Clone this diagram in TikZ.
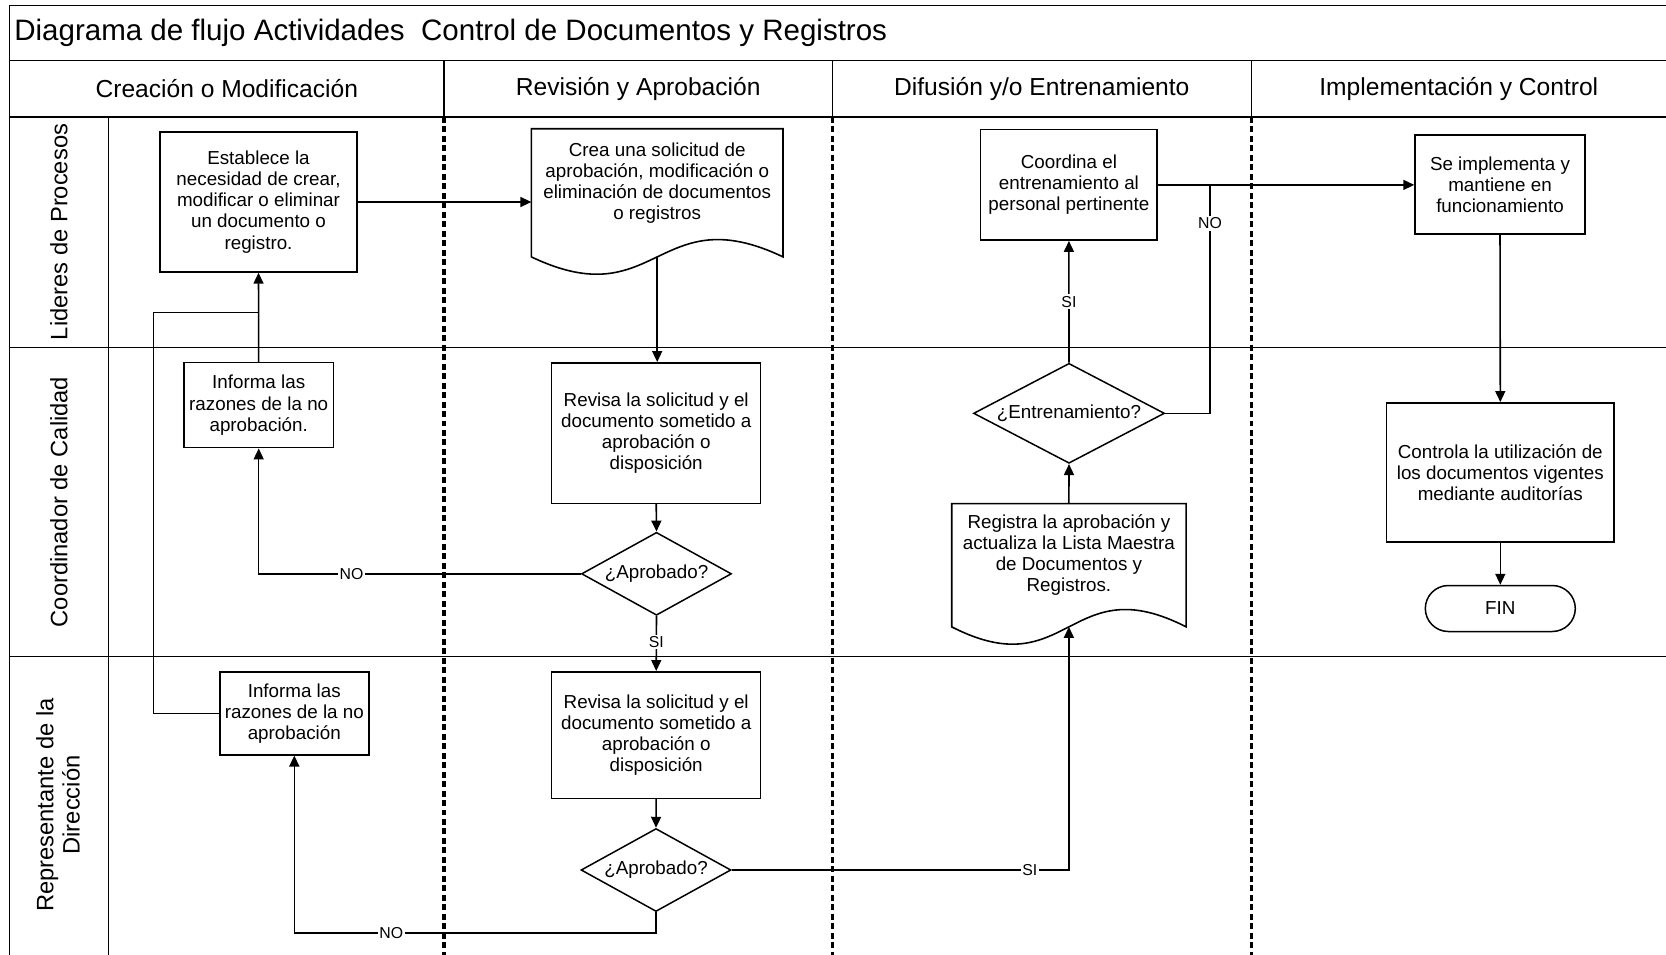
\documentclass[tikz,border=0pt]{standalone}
\usepackage{fontspec}
\setmainfont{Liberation Sans}
\usetikzlibrary{arrows.meta, calc, shapes.geometric}
\newcommand{\boxfont}{\fontsize{10.7}{12}\selectfont}
\tikzset{
  frm/.style={line width=0.9pt},
  sepl/.style={line width=2pt, dash pattern=on 3.4pt off 2pt},
  proc/.style={draw, line width=0.85pt, align=center, font=\boxfont, inner sep=2pt},
  doc/.style={align=center, font=\boxfont, inner sep=2pt},
  dec/.style={diamond, draw, line width=0.85pt, inner sep=0pt, aspect=1.8, font=\boxfont},
  term/.style={proc, rounded corners=0.46cm},
  lin/.style={line width=0.9pt},
  tra/.style={lin, -{Triangle[length=0.22cm, width=0.2cm]}},
  tlab/.style={font=\fontsize{9}{10}\selectfont, fill=white, inner sep=1pt},
  hdr/.style={font=\fontsize{14}{16}\selectfont},
  lane/.style={rotate=90, align=center, font=\fontsize{13.5}{15}\selectfont}
}
% wavy outline of a document node: #1 node, #2 drop of the corners below south
\newcommand{\docout}[2]{%
  \draw[lin] (#1.north west) -- (#1.north east) -- ($(#1.south east)+(0,#2)$)
    .. controls ($(#1.south)+(0,#2-60)$) and ($(#1.south)+(0,#2+60)$) .. ($(#1.south west)+(0,#2)$) -- cycle;
  \coordinate (#1-w) at ($(#1.south)+(0,#2)$);
}

\begin{document}
\begin{tikzpicture}[x=0.02cm, y=-0.02cm]
	\useasboundingbox (0,0) rectangle (1666,954);
	% table
	\draw[frm] (9.6,5.3) -- (1672,5.3);
	\draw[frm] (9.6,5.3) -- (9.6,962);
	\foreach \y in {60.6,116.9,347.4,656.6} \draw[frm] (9.6,\y) -- (1672,\y);
	\draw[frm] (108.5,116.9) -- (108.5,962);
	\foreach \x in {444,832.5,1251.6} {
		\draw[frm] (\x,60.6) -- (\x,116.9);
		\draw[sepl] (\x,116.9) -- (\x,962);
	}
	\node[anchor=west, inner sep=0pt, font=\fontsize{16.8}{18}\selectfont] (ttl) at (14,33) {Diagrama de flujo Actividades\ \ Control de Documentos y Registros};
	\node[hdr] (h1) at (226.8,88.5) {Creación o Modificación};
	\node[hdr] (h2) at (638.2,88.5) {Revisión y Aprobación};
	\node[hdr] (h3) at (1041.8,88.5) {Difusión y/o Entrenamiento};
	\node[hdr] (h4) at (1458.8,88.5) {Implementación y Control};
	\node[lane] (l1) at (58.8,232) {Lideres de Procesos};
	\node[lane] (l2) at (58.8,502) {Coordinador de Calidad};
	\node[lane] (l3) at (58,805) {Representante de la\\Dirección};

	% Lideres de Procesos
	\node[proc, minimum width=3.94cm, minimum height=2.8cm] (est) at (258.5,202) {Establece la\\necesidad de crear,\\modificar o eliminar\\un documento o\\registro.};
	\node[doc, minimum width=5.02cm, minimum height=2.17cm] (crea) at (657.2,183.3) {Crea una solicitud de\\aprobación, modificación o\\eliminación de documentos\\o registros};
	\docout{crea}{19}
	\node[proc, minimum width=3.53cm, minimum height=2.21cm] (coord) at (1068.9,184.9) {Coordina el\\entrenamiento al\\personal pertinente};
	\node[proc, minimum width=3.4cm, minimum height=1.98cm] (impl) at (1500,184.6) {Se implementa y\\mantiene en\\funcionamiento};

	% Coordinador de Calidad
	\node[proc, minimum width=2.99cm, minimum height=1.7cm] (infcc) at (258.7,405.2) {Informa las\\razones de la no\\aprobación.};
	\node[proc, minimum width=4.18cm, minimum height=2.81cm] (revcc) at (656.2,433) {Revisa la solicitud y el\\documento sometido a\\aprobación o\\disposición};
	\node[dec, minimum width=3cm, minimum height=1.66cm] (aprcc) at (656.5,573.8) {¿Aprobado?};
	\node[dec, minimum width=3.82cm, minimum height=2cm] (entr) at (1069,413.3) {¿Entrenamiento?};
	\node[doc, minimum width=4.675cm, minimum height=2.04cm] (reg) at (1068.9,555) {Registra la aprobación y\\actualiza la Lista Maestra\\de Documentos y\\Registros.};
	\docout{reg}{20.5}
	\node[proc, minimum width=4.55cm, minimum height=2.78cm] (ctrl) at (1500.3,472.3) {Controla la utilización de\\los documentos vigentes\\mediante auditorías};
	\node[term, minimum width=3cm, minimum height=0.92cm] (fin) at (1500.3,608.5) {FIN};

	% Representante de la Direccion
	\node[proc, minimum width=2.98cm, minimum height=1.66cm] (infrd) at (294.3,713.3) {Informa las\\razones de la no\\aprobación};
	\node[proc, minimum width=4.18cm, minimum height=2.53cm] (revrd) at (656.2,735) {Revisa la solicitud y el\\documento sometido a\\aprobación o\\disposición};
	\node[dec, minimum width=3cm, minimum height=1.66cm] (aprrd) at (656,870) {¿Aprobado?};

	\coordinate (jn) at (258.5,312.5);
	\coordinate (jn2) at (1210,184.9);

	\draw[tra] (est.east) -- (est.east -| crea.west);
	\draw[tra] (crea-w) -- (crea-w |- revcc.north);
	\draw[tra] (revcc.south) -- (aprcc.north);
	\draw[tra] (aprcc.west) -| node[tlab, pos=0.356] {NO} (infcc.south);
	\draw[tra] (infcc.north) -- (est.south);
	\draw[lin] (infrd.west) -| ($(jn)+(-105.2,0)$) -- (jn);
	\draw[tra] (aprcc.south) -- node[tlab, pos=0.47] {SI} (revrd.north);
	\draw[tra] (revrd.south) -- (aprrd.north);
	\draw[tra] (aprrd.east) -| node[tlab, pos=0.442] {SI} (reg-w);
	\draw[tra] (aprrd.south) -- ++(0,21) -| node[tlab, pos=0.366] {NO} (infrd.south);
	\draw[tra] (reg.north) -- (entr.south);
	\draw[tra] (entr.north) -- node[tlab, pos=0.5] {SI} (coord.south);
	\draw[lin] (entr.east) -| node[tlab, pos=0.916] {NO} (jn2);
	\draw[tra] (coord.east) -- (coord.east -| impl.west);
	\draw[tra] (impl.south) -- (ctrl.north);
	\draw[tra] (ctrl.south) -- (fin.north);
\end{tikzpicture}
\end{document}
